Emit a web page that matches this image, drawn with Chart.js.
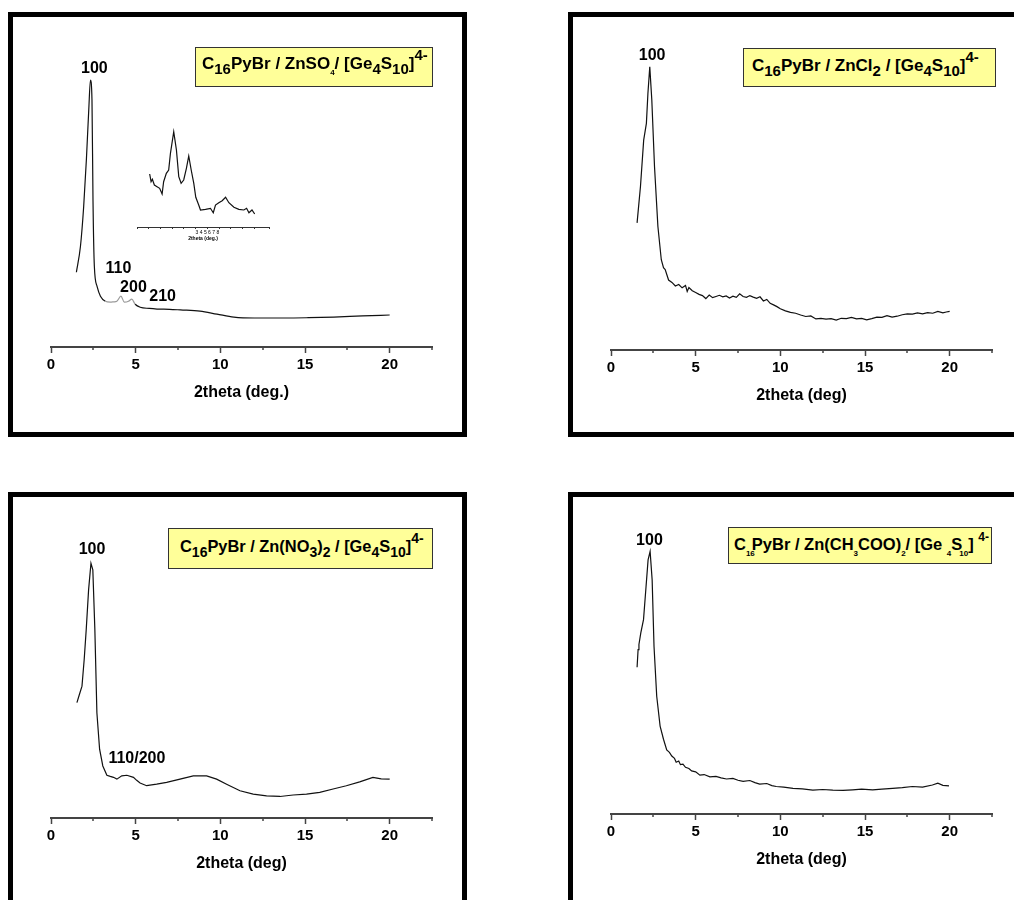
<!DOCTYPE html>
<html>
<head>
<meta charset="utf-8">
<script src="https://cdn.jsdelivr.net/npm/chart.js@4"></script>
<style>
  body { margin: 0; background: #fff; width: 1014px; height: 900px; overflow: hidden; position: relative; font-family: "Liberation Sans", Arial, sans-serif; }
  .frame { position: absolute; border: 5px solid #000; box-sizing: border-box; }
  canvas { position: absolute; }
  .tag { position: absolute; background: #ffff99; border: 1px solid #333; box-sizing: border-box;
         font-weight: bold; font-size: 17px; color: #000; white-space: nowrap; padding-left: 6px; }
  .tag sub { font-size: 15px; vertical-align: -5px; line-height: 0; }
  .tag sup { font-size: 15px; vertical-align: 9px; line-height: 0; }
  .tag .tiny { font-size: 8px; vertical-align: -6px; line-height: 0; }
</style>
</head>
<body>

<div class="frame" style="left:8px;top:12px;width:459px;height:425px"></div>
<div class="frame" style="left:568px;top:12px;width:470px;height:425px"></div>
<div class="frame" style="left:8px;top:492px;width:459px;height:430px"></div>
<div class="frame" style="left:568px;top:492px;width:470px;height:430px"></div>

<canvas id="c1" width="445" height="415" style="left:13px;top:17px"></canvas>
<canvas id="c2" width="445" height="415" style="left:573px;top:20px"></canvas>
<canvas id="c3" width="445" height="415" style="left:13px;top:488px"></canvas>
<canvas id="c4" width="445" height="415" style="left:573px;top:484px"></canvas>
<canvas id="inset" width="160" height="140" style="left:120px;top:110px"></canvas>

<div class="tag" style="left:195px;top:47px;width:238px;height:40px;line-height:32px">C<sub>16</sub>PyBr / ZnSO<span class="tiny">4</span>/ [Ge<sub>4</sub>S<sub>10</sub>]<sup>4-</sup></div>
<div class="tag" style="left:743px;top:48px;width:253px;height:39px;line-height:34px;padding-left:8px">C<sub>16</sub>PyBr / ZnCl<sub>2</sub> / [Ge<sub>4</sub>S<sub>10</sub>]<sup>4-</sup></div>
<div class="tag" style="left:168px;top:528px;width:265px;height:41px;line-height:34px;padding-left:11px;font-size:16.4px">C<sub style="font-size:14px">16</sub>PyBr / Zn(NO<sub style="font-size:14px">3</sub>)<sub style="font-size:14px">2</sub> / [Ge<sub style="font-size:14px">4</sub>S<sub style="font-size:14px">10</sub>]<sup style="font-size:14px">4-</sup></div>
<div class="tag" style="left:728px;top:527px;width:264px;height:37px;line-height:32px;padding-left:5px;font-size:16.5px">C<span class="tiny" style="margin-right:-3px">16</span>PyBr / Zn(CH<span class="tiny">3</span>COO)<span class="tiny">2</span>/ [Ge <span class="tiny">4</span>S<span class="tiny" style="margin-left:-3px">10</span>] <sup style="font-size:12px">4-</sup></div>

<script>
// panel 1 : ZnSO4
const p1X = [1.5, 1.74, 1.93, 2.09, 2.23, 2.33, 2.42, 2.48, 2.56, 2.72, 2.92, 3.21, 3.5, 3.7, 3.89, 4.13, 4.33, 4.58, 4.77, 4.97, 5.27, 5.8, 6.26, 7.0, 7.64, 8.8, 9.8, 10.8, 12.0, 13.8, 15.2, 16.7, 18.4, 20.0];
const p1Y = [25, 33.7, 47, 62.7, 79.3, 89.3, 82.7, 49, 27, 20.3, 17, 15.3, 15, 15.1, 15.3, 17, 15, 15.3, 16, 14.3, 13.3, 12.9, 12.7, 12.6, 12.4, 12, 11, 10, 9.7, 9.7, 9.8, 10, 10.4, 10.7];
const p1Notes = [[2.56, 93, '100'], [3.98, 26.3, '110'], [4.87, 20, '200'], [6.59, 17, '210']];

// inset of panel 1
const insetX = [1.08, 1.2, 1.31, 1.48, 1.71, 1.93, 2.14, 2.27, 2.5, 2.7, 2.85, 3.13, 3.36, 3.56, 3.76, 3.98, 4.21, 4.41, 4.62, 4.84, 5.01, 5.26, 5.41, 5.84, 6.26, 6.5, 6.69, 6.97, 7.26, 7.55, 7.83, 8.26, 8.68, 9.11, 9.34, 9.54, 9.8, 10.03];
const insetY = [53, 45.3, 47.7, 42, 40.3, 38.7, 33, 45.3, 53.7, 57, 73.7, 95.3, 77, 50.3, 43.7, 47, 58.7, 71, 57, 43.7, 29.7, 22, 17, 17.7, 18.7, 14.3, 22, 24.3, 26.3, 29.7, 24.3, 19.7, 17.7, 17, 18.7, 14.3, 17, 13];

// panel 2 : ZnCl2
const p2X = [1.54, 1.74, 1.93, 2.09, 2.18, 2.29, 2.41, 2.57, 2.77, 2.97, 3.1, 3.2, 3.4, 3.6, 3.8, 4.0, 4.2, 4.4, 4.5, 4.6, 4.8, 5.0, 5.2, 5.4, 5.6, 5.8, 6.0, 6.2, 6.4, 6.6, 6.8, 7.0, 7.2, 7.4, 7.6, 7.8, 8.0, 8.2, 8.4, 8.6, 8.8, 9.0, 9.2, 9.4, 9.6, 9.8, 10.0, 10.3, 10.6, 10.9, 11.2, 11.5, 11.8, 12.1, 12.4, 12.7, 13.0, 13.3, 13.6, 13.9, 14.2, 14.5, 14.8, 15.1, 15.4, 15.7, 16.0, 16.3, 16.6, 16.9, 17.2, 17.5, 17.8, 18.1, 18.4, 18.7, 19.0, 19.3, 19.6, 19.8, 20.0];
const p2Y = [42.5, 54.7, 70.2, 75.8, 85.8, 94.7, 83.6, 61.3, 41.3, 30.2, 27.5, 26.9, 23.4, 22.6, 21.4, 21.9, 20.8, 21.6, 19.6, 20.9, 19.8, 19.2, 18.6, 18.2, 17.2, 18.4, 17.5, 17.9, 18.3, 17.8, 18.1, 17.4, 18.0, 17.6, 18.8, 17.9, 17.6, 18.2, 17.7, 17.3, 17.8, 16.4, 16.9, 15.6, 15.1, 14.5, 13.8, 13.1, 12.6, 12.3, 11.7, 11.2, 11.4, 10.4, 10.6, 10.3, 10.5, 10.0, 10.6, 10.5, 10.9, 10.4, 10.6, 10.1, 10.5, 11.0, 10.9, 11.5, 11.0, 11.3, 11.8, 12.1, 12.0, 12.4, 12.1, 12.5, 12.3, 12.9, 12.4, 12.7, 12.9];
const p2Notes = [[2.43, 98.6, '100']];

// panel 3 : Zn(NO3)2
const p3X = [1.53, 1.65, 1.83, 1.96, 2.08, 2.22, 2.36, 2.47, 2.59, 2.71, 2.87, 3.06, 3.3, 3.5, 3.69, 3.89, 4.18, 4.48, 4.87, 5.06, 5.26, 5.65, 6.24, 6.83, 7.62, 8.4, 9.19, 9.78, 10.37, 11.16, 11.94, 12.73, 13.52, 14.3, 15.09, 15.87, 16.66, 17.44, 18.23, 19.01, 19.5, 20.0];
const p3Y = [38.6, 40.8, 44.1, 53, 63, 76.3, 85.2, 83, 63, 35.2, 23, 17.4, 14.3, 13.9, 13.6, 13, 14.1, 14.3, 13.6, 12.6, 11.7, 10.8, 11.3, 11.9, 13, 14.1, 14.1, 13, 11.3, 9.1, 8, 7.4, 7.2, 7.7, 8, 8.6, 9.7, 10.8, 12.1, 13.6, 13.1, 13];
const p3Notes = [[2.42, 89.7, '100'], [5.07, 19.9, '110/200']];

// panel 4 : Zn(CH3COO)2
const p4X = [1.54, 1.6, 1.65, 1.76, 1.92, 2.07, 2.19, 2.31, 2.43, 2.54, 2.7, 2.9, 3.1, 3.29, 3.45, 3.59, 3.75, 3.85, 4.0, 4.1, 4.25, 4.4, 4.6, 4.76, 5.0, 5.25, 5.5, 5.84, 6.2, 6.5, 6.82, 7.2, 7.5, 7.8, 8.2, 8.5, 8.78, 9.2, 9.5, 9.76, 10.2, 10.75, 11.3, 11.92, 12.5, 13.1, 13.7, 14.27, 14.8, 15.45, 16.0, 16.63, 17.2, 17.8, 18.4, 18.98, 19.3, 19.6, 19.96];
const p4Y = [49.1, 55, 56.7, 60.6, 65, 76.1, 85, 87.8, 78.3, 56.1, 39.4, 29.4, 25, 21.4, 20.6, 19.4, 18.6, 17.3, 17.7, 16.5, 16.7, 15.6, 15.2, 14.4, 14.1, 13.0, 13.2, 12.4, 12.6, 12.1, 11.7, 11.9, 11.3, 10.9, 11.2, 10.5, 10.0, 10.2, 9.5, 9.2, 9.0, 8.6, 8.4, 8.0, 8.2, 8.0, 7.9, 8.1, 8.3, 8.1, 8.3, 8.6, 8.8, 9.2, 9.0, 9.7, 10.3, 9.6, 9.4];
const p4Notes = [[2.27, 91.3, '100']];

const FONT = '"Liberation Sans", Arial, sans-serif';

function toPoints(xs, ys) {
  return xs.map((x, i) => ({ x: x, y: ys[i] }));
}

// peak labels and short minor ticks
const extras = {
  id: 'extras',
  afterDraw(chart, args, opts) {
    const ctx = chart.ctx, xs = chart.scales.x, ys = chart.scales.y;
    ctx.save();
    ctx.strokeStyle = '#444';
    ctx.lineWidth = 1.5;
    (opts.minor || []).forEach(v => {
      const px = Math.round(xs.getPixelForValue(v));
      ctx.beginPath();
      ctx.moveTo(px, chart.chartArea.bottom);
      ctx.lineTo(px, chart.chartArea.bottom + opts.minorLen);
      ctx.stroke();
    });
    ctx.fillStyle = '#000';
    ctx.font = 'bold 16px ' + FONT;
    ctx.textAlign = 'center';
    ctx.textBaseline = 'middle';
    (opts.notes || []).forEach(n => {
      ctx.fillText(n[2], xs.getPixelForValue(n[0]), ys.getPixelForValue(n[1]));
    });
    ctx.restore();
  }
};

function makePanel(id, xs, ys, notes, title, grey) {
  new Chart(document.getElementById(id), {
    type: 'line',
    data: {
      datasets: [{
        data: toPoints(xs, ys),
        borderColor: '#111',
        borderWidth: 1.2,
        pointRadius: 0,
        cubicInterpolationMode: grey ? 'monotone' : 'default',
        tension: 0,
        clip: false,
        segment: {
          borderColor: c => (grey && c.p0.parsed.x >= 3.0 && c.p1.parsed.x <= 5.0) ? '#9a9a9a' : '#111'
        }
      }]
    },
    options: {
      responsive: false,
      animation: false,
      devicePixelRatio: 1,
      layout: { padding: { left: 38, right: 26, top: 31, bottom: 30 } },
      plugins: {
        legend: { display: false },
        tooltip: { enabled: false },
        extras: { notes: notes, minor: [2.5, 7.5, 12.5, 17.5, 22.5], minorLen: 3 }
      },
      scales: {
        x: {
          type: 'linear',
          min: 0,
          max: 22.5,
          afterFit: s => { s.height = 55; },
          border: { display: true, color: '#444', width: 2 },
          grid: {
            drawOnChartArea: false,
            drawTicks: true,
            tickLength: 6,
            tickWidth: 1.5,
            tickColor: c => (c.tick && c.tick.value % 5 === 0) ? '#444' : 'rgba(0,0,0,0)'
          },
          ticks: {
            stepSize: 2.5,
            autoSkip: false,
            maxRotation: 0,
            padding: 3,
            color: '#000',
            font: { family: FONT, size: 15, weight: 'bold' },
            callback: v => (v % 5 === 0 ? String(v) : '')
          },
          title: {
            display: true,
            text: title,
            color: '#000',
            padding: { top: 0, bottom: 0 },
            font: { family: FONT, size: 16, weight: 'bold', lineHeight: 1.2 }
          }
        },
        y: { display: false, min: 0, max: 100 }
      }
    },
    plugins: [extras]
  });
}

makePanel('c1', p1X, p1Y, p1Notes, '2theta (deg.)', true);
makePanel('c2', p2X, p2Y, p2Notes, '2theta (deg)', false);
makePanel('c3', p3X, p3Y, p3Notes, '2theta (deg)', false);
makePanel('c4', p4X, p4Y, p4Notes, '2theta (deg)', false);

// small inset with the low angle region
new Chart(document.getElementById('inset'), {
  type: 'line',
  data: {
    datasets: [{
      data: toPoints(insetX, insetY),
      borderColor: '#111',
      borderWidth: 1.2,
      pointRadius: 0,
      clip: false
    }]
  },
  options: {
    responsive: false,
    animation: false,
    devicePixelRatio: 1,
    layout: { padding: { left: 17, right: 11, top: 17, bottom: 8 } },
    plugins: { legend: { display: false }, tooltip: { enabled: false } },
    scales: {
      x: {
        type: 'linear',
        min: 0,
        max: 11.25,
        afterFit: s => { s.height = 15; },
        border: { display: true, color: '#333', width: 1 },
        grid: { drawOnChartArea: false, drawTicks: true, tickLength: 2, tickColor: '#333' },
        ticks: {
          stepSize: 1,
          autoSkip: false,
          maxRotation: 0,
          padding: 1,
          color: '#000',
          font: { family: FONT, size: 5 },
          callback: v => (v === 6 ? '3 4 5 6 7 8' : '')
        },
        title: {
          display: true,
          text: '2theta (deg.)',
          color: '#000',
          padding: 0,
          font: { family: FONT, size: 5, weight: 'bold' }
        }
      },
      y: { display: false, min: 0, max: 100 }
    }
  }
});
</script>
</body>
</html>
